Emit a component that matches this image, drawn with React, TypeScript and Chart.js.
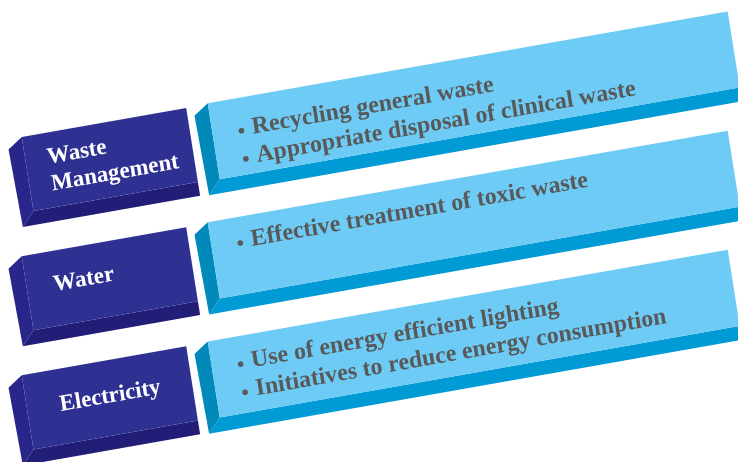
import { useEffect, useRef } from "react";
import { Chart, registerables } from "chart.js";

Chart.register(...registerables);

// ---- data ----
const categories = ["Waste Management", "Water", "Electricity"];
const labelLines = [["Waste", "Management"], ["Water"], ["Electricity"]];
const detailItems = [
  ["Recycling general waste", "Appropriate disposal of clinical waste"],
  ["Effective treatment of toxic waste"],
  ["Use of energy efficient lighting", "Initiatives to reduce energy consumption"],
];
// extents of the two boxes of each row along the value axis
const labelSpan = [[0, 167], [0, 167], [0, 167]];
const detailSpan = [[189, 717], [189, 717], [189, 717]];

// ---- layout / style ----
const W = 738;
const H = 472;
const ROT = (10 * Math.PI) / 180;
const SHEAR = (9 * Math.PI) / 180;
const labelOffsets = [
  { x: 22, y: 31 },
  { x: 27, y: 40 },
  { x: 33, y: 42 },
];
const detailOffsets = [{ y: 38 }, { y: 31 }, { y: 33 }];

function drawBox(ctx: CanvasRenderingContext2D, L: number, R: number, T: number, B: number, front: string, left: string, bottom: string) {
  ctx.fillStyle = left;
  ctx.beginPath();
  ctx.moveTo(L, T);
  ctx.lineTo(L, B);
  ctx.lineTo(L - 13, B + 14);
  ctx.lineTo(L - 15, T + 10);
  ctx.closePath();
  ctx.fill();
  ctx.fillStyle = bottom;
  ctx.beginPath();
  ctx.moveTo(L, B);
  ctx.lineTo(R, B);
  ctx.lineTo(R, B + 14);
  ctx.lineTo(L - 13, B + 14);
  ctx.closePath();
  ctx.fill();
  ctx.fillStyle = front;
  ctx.fillRect(L, T, R - L, B - T);
}

const diagramPlugin = {
  id: "diagram",
  afterDatasetsDraw(chart: any) {
    const ctx: CanvasRenderingContext2D = chart.ctx;
    const m0 = chart.getDatasetMeta(0);
    const m1 = chart.getDatasetMeta(1);
    categories.forEach((_, i) => {
      const lb = m0.data[i].getProps(["x", "y", "base", "height"], true);
      const db = m1.data[i].getProps(["x", "y", "base", "height"], true);
      const qx = Math.min(lb.base, lb.x);
      const qy = lb.y;
      const ux = Math.cos(ROT), uy = -Math.sin(ROT);
      const vx = Math.sin(SHEAR), vy = Math.cos(SHEAR);
      const e = qx - (ux * qx + vx * qy);
      const f = qy - (uy * qx + vy * qy);
      ctx.save();
      ctx.transform(ux, uy, vx, vy, e, f);

      const L1 = Math.min(lb.base, lb.x), R1 = Math.max(lb.base, lb.x);
      const T1 = lb.y - lb.height / 2, B1 = lb.y + lb.height / 2;
      const L2 = Math.min(db.base, db.x), R2 = Math.max(db.base, db.x);
      const T2 = db.y - db.height / 2, B2 = db.y + db.height / 2;

      drawBox(ctx, L2, R2, T2, B2, "#6dcbf5", "#0089b9", "#009ad5");
      drawBox(ctx, L1, R1, T1, B1, "#2e3192", "#28268a", "#221d77");

      ctx.fillStyle = "#ffffff";
      ctx.font = 'bold 23px "Liberation Serif"';
      ctx.textBaseline = "alphabetic";
      ctx.textAlign = "left";
      labelLines[i].forEach((line, k) => {
        ctx.fillText(line, L1 + labelOffsets[i].x, T1 + labelOffsets[i].y + k * 27);
      });

      ctx.fillStyle = "#595959";
      ctx.font = 'bold 24px "Liberation Serif"';
      detailItems[i].forEach((item, k) => {
        const by = T2 + detailOffsets[i].y + k * 28.5;
        ctx.beginPath();
        ctx.arc(L2 + 29, by - 5, 2.8, 0, Math.PI * 2);
        ctx.fill();
        ctx.fillText(item, L2 + 40, by);
      });
      ctx.restore();
    });
  },
};

export default function App() {
  const ref = useRef<HTMLCanvasElement>(null);
  useEffect(() => {
    document.body.style.margin = "0";
    document.body.style.background = "#ffffff";
    const chart = new Chart(ref.current!, {
      type: "bar",
      data: {
        labels: categories,
        datasets: [
          {
            label: "Area",
            data: labelSpan as any,
            backgroundColor: "rgba(0,0,0,0)",
            borderWidth: 0,
            barThickness: 75,
            grouped: false,
          } as any,
          {
            label: "Actions",
            data: detailSpan as any,
            backgroundColor: "rgba(0,0,0,0)",
            borderWidth: 0,
            barThickness: 77,
            grouped: false,
          } as any,
        ],
      },
      options: {
        indexAxis: "y",
        responsive: false,
        animation: false,
        layout: { padding: { top: 114.4, bottom: 0, left: 0, right: 0 } },
        scales: {
          x: { type: "linear", min: -27.6, max: W - 27.6, display: false },
          y: { type: "category", display: false, offset: true },
        },
        plugins: { legend: { display: false }, tooltip: { enabled: false } },
      },
      plugins: [diagramPlugin],
    });
    return () => chart.destroy();
  }, []);
  return (
    <div style={{ width: W, height: 462, overflow: "hidden", background: "#ffffff" }}>
      <canvas ref={ref} width={W} height={H} style={{ display: "block" }} />
    </div>
  );
}
